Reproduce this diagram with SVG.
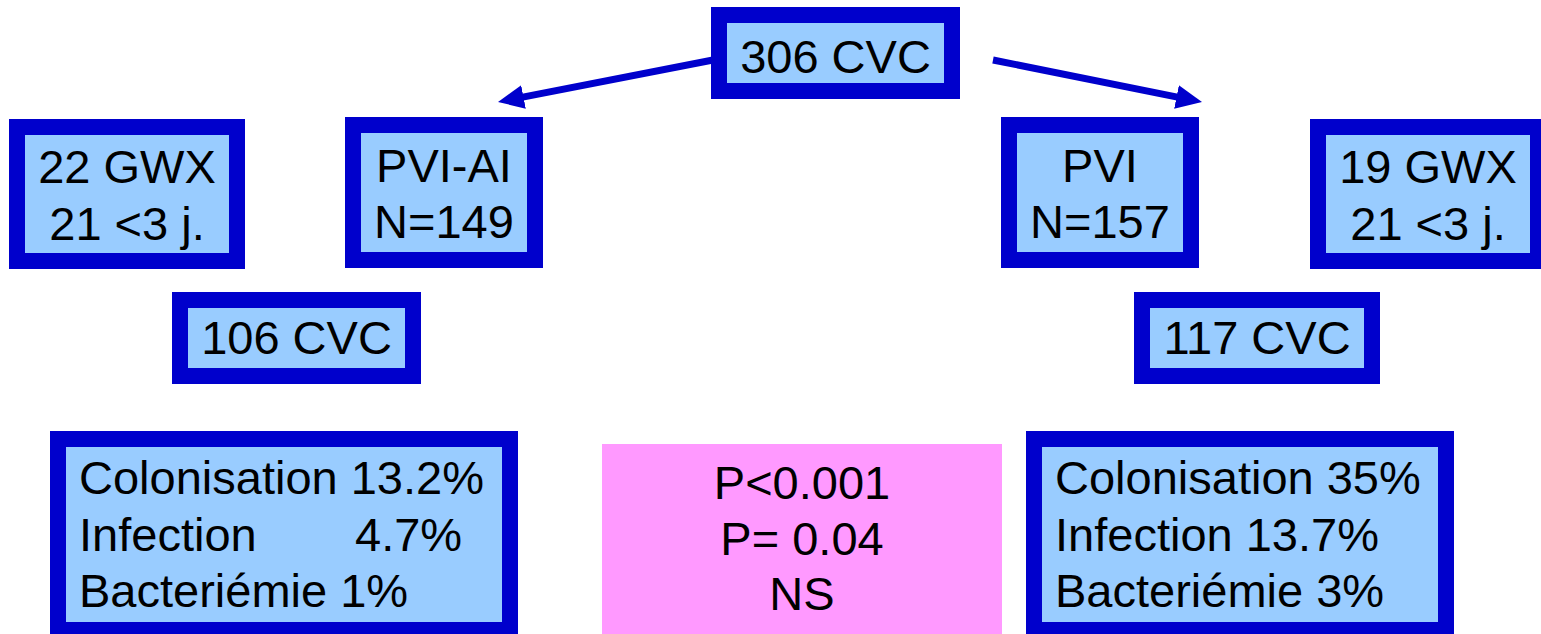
<svg xmlns="http://www.w3.org/2000/svg" width="1541" height="634" viewBox="0 0 1541 634">
  <style>
    .frame { fill: #0000CC; }
    .panel { fill: #99CCFF; }
    .stat { fill: #FF99FF; }
    .lbl { font-family: "Liberation Sans", Arial, sans-serif; font-size: 47px; fill: #000000; }
    .mid { text-anchor: middle; }
    .link { stroke: #0000CC; stroke-width: 7; fill: none; marker-end: url(#head); }
  </style>
  <defs>
    <marker id="head" markerUnits="userSpaceOnUse" markerWidth="26" markerHeight="24" refX="6" refY="12" orient="auto">
      <path d="M0,0 L26,12 L0,24 z" fill="#0000CC"/>
    </marker>
  </defs>
  <rect width="1541" height="634" fill="#FFFFFF"/>

  <g id="connectors">
    <line class="link" x1="713" y1="60" x2="517.6" y2="98.1"/>
    <line class="link" x1="993" y1="60" x2="1182.4" y2="98.1"/>
  </g>

  <g id="root">
    <rect class="frame" x="711" y="7" width="249" height="92"/>
    <rect class="panel" x="727" y="23" width="217" height="60"/>
    <text class="lbl mid" x="835.5" y="73">306 CVC</text>
  </g>

  <g id="gwx-left">
    <rect class="frame" x="9" y="119" width="236" height="150"/>
    <rect class="panel" x="25" y="135" width="204" height="118"/>
    <text class="lbl mid" x="127" y="183">22 GWX</text>
    <text class="lbl mid" x="127" y="240">21 &lt;3 j.</text>
  </g>

  <g id="pvi-ai">
    <rect class="frame" x="345" y="117" width="198" height="151"/>
    <rect class="panel" x="361" y="133" width="166" height="119"/>
    <text class="lbl mid" x="444" y="182">PVI-AI</text>
    <text class="lbl mid" x="444" y="238">N=149</text>
  </g>

  <g id="pvi">
    <rect class="frame" x="1001" y="117" width="198" height="151"/>
    <rect class="panel" x="1017" y="133" width="166" height="119"/>
    <text class="lbl mid" x="1100" y="182">PVI</text>
    <text class="lbl mid" x="1100" y="238">N=157</text>
  </g>

  <g id="gwx-right">
    <rect class="frame" x="1310" y="119" width="236" height="150"/>
    <rect class="panel" x="1326" y="135" width="204" height="118"/>
    <text class="lbl mid" x="1428" y="183">19 GWX</text>
    <text class="lbl mid" x="1428" y="240">21 &lt;3 j.</text>
  </g>

  <g id="cvc-left">
    <rect class="frame" x="172" y="292" width="249" height="92"/>
    <rect class="panel" x="188" y="308" width="217" height="60"/>
    <text class="lbl mid" x="296.5" y="354">106 CVC</text>
  </g>

  <g id="cvc-right">
    <rect class="frame" x="1134" y="292" width="246" height="92"/>
    <rect class="panel" x="1150" y="308" width="214" height="60"/>
    <text class="lbl mid" x="1257" y="354">117 CVC</text>
  </g>

  <g id="results-left">
    <rect class="frame" x="50" y="431" width="468" height="207"/>
    <rect class="panel" x="66" y="447" width="436" height="175"/>
    <text class="lbl" x="79" y="494">Colonisation 13.2%</text>
    <text class="lbl" y="551"><tspan x="79">Infection</tspan><tspan x="355">4.7%</tspan></text>
    <text class="lbl" x="79" y="607">Bacteriémie 1%</text>
  </g>

  <g id="p-values">
    <rect class="stat" x="602" y="444" width="400" height="194"/>
    <text class="lbl mid" x="802" y="499">P&lt;0.001</text>
    <text class="lbl mid" x="802" y="555">P= 0.04</text>
    <text class="lbl mid" x="802" y="610">NS</text>
  </g>

  <g id="results-right">
    <rect class="frame" x="1026" y="431" width="428" height="207"/>
    <rect class="panel" x="1042" y="447" width="396" height="175"/>
    <text class="lbl" x="1055" y="494">Colonisation 35%</text>
    <text class="lbl" x="1055" y="551">Infection 13.7%</text>
    <text class="lbl" x="1055" y="607">Bacteriémie 3%</text>
  </g>
</svg>
